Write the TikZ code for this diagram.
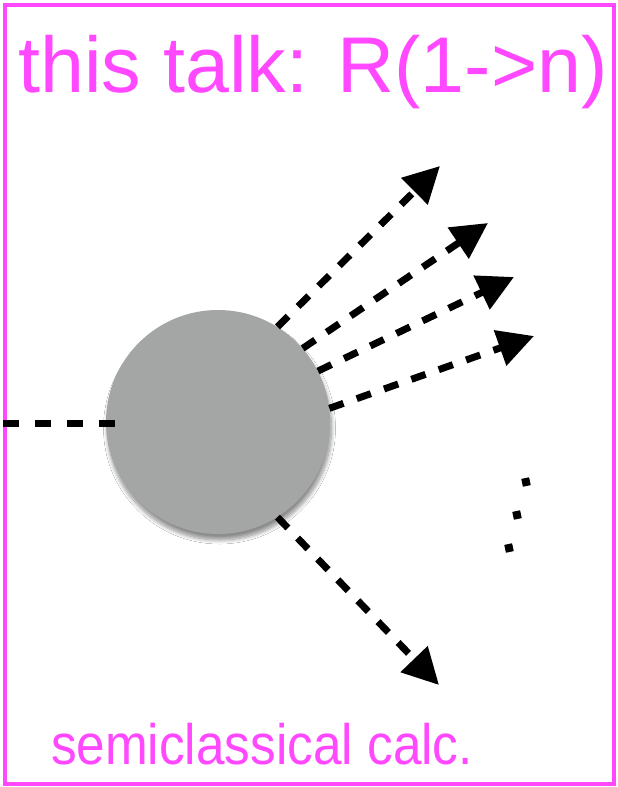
\documentclass[tikz,border=0pt]{standalone}
\usepackage{fontspec}
\setmainfont{Liberation Sans}
\usetikzlibrary{arrows.meta,shadows.blur}
\definecolor{pinkm}{RGB}{255,72,255}
\definecolor{blobgray}{RGB}{164,166,165}
\begin{document}
\begin{tikzpicture}[x=1pt,y=-1pt,
  frame/.style={draw=pinkm,line width=4pt},
  title/.style={text=pinkm,inner sep=0pt,anchor=base},
  leg/.style={line width=7pt,dash pattern=on 15pt off 14pt},
  legarrow/.style={leg,-{Triangle[length=36pt,width=36pt]}},
  dotmark/.style={fill=black,minimum size=8pt,inner sep=0pt,rotate=12},
  blobstyle/.style={circle,fill=blobgray,minimum size=224pt,inner sep=0pt,
    blur shadow={shadow xshift=1.5pt,shadow yshift=-6pt,shadow blur steps=10,shadow blur radius=4pt,shadow opacity=45}}]
\useasboundingbox (0,0) rectangle (618,787);
\fill[white] (0,0) rectangle (618,787);
\draw[frame] (5,5) rectangle (614,784);
\node[title,font=\fontsize{79}{90}\selectfont] (top) at (313,92) {this talk: R(1->n)};
\node[title,font=\fontsize{57}{66}\selectfont] (bottom) at (262,764) {\scalebox{0.9}[1]{semiclassical calc.}};
\coordinate (in) at (3,423);
\coordinate (inend) at (116,423);
\coordinate (t1) at (440,166);
\coordinate (t2) at (488,223);
\coordinate (t3) at (514,277);
\coordinate (t4) at (534,336);
\coordinate (t5) at (439,685);
\node[blobstyle] (blob) at (218,422) {};
\draw[line width=7pt,dash pattern=on 16pt off 16pt] (in) -- (inend);
\draw[legarrow] (blob.58) -- (t1);
\draw[legarrow] (blob.41) -- (t2);
\draw[legarrow] (blob.27) -- (t3);
\draw[legarrow] (blob.7) -- (t4);
\draw[legarrow] (blob.-58) -- (t5);
\node[dotmark] (d1) at (526,482) {};
\node[dotmark] (d2) at (517,515) {};
\node[dotmark] (d3) at (509,548) {};
\end{tikzpicture}
\end{document}
